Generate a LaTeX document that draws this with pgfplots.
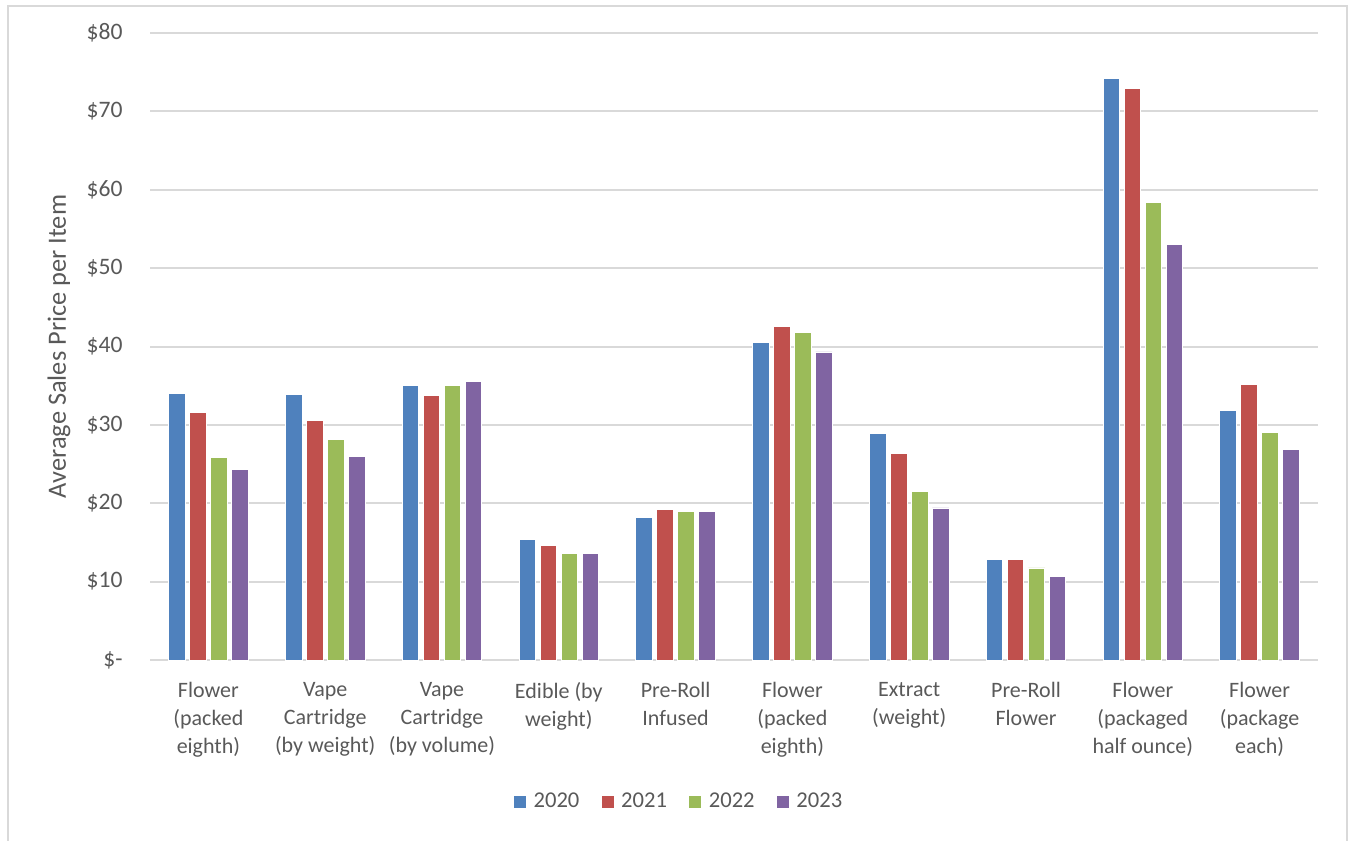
\documentclass[border=0pt]{standalone}
\usepackage{fontspec}
\setmainfont{Carlito}
\usepackage{pgfplots}
\pgfplotsset{compat=1.18}
\definecolor{c1}{HTML}{4F81BD}
\definecolor{c2}{HTML}{C0504D}
\definecolor{c3}{HTML}{9BBB59}
\definecolor{c4}{HTML}{8064A2}
\definecolor{txt}{HTML}{595959}
\definecolor{gridc}{HTML}{D9D9D9}
\begin{document}
\begin{tikzpicture}
\useasboundingbox (0,0) rectangle (676pt,420pt);
\draw[color=gridc, line width=0.9pt] (4pt,-2pt) -- (4pt,417pt) -- (673.5pt,417pt) -- (673.5pt,-2pt);
\begin{axis}[
  at={(75pt,90pt)}, anchor=south west,
  scale only axis, width=584pt, height=313.5pt,
  xmin=-0.5, xmax=9.5, ymin=0, ymax=80,
  ybar=2.25pt, bar width=8.25pt,
  axis line style={draw=none},
  major tick length=0pt,
  tick style={draw=none},
  ymajorgrids, grid style={color=gridc, line width=1pt},
  xtick={0,...,9},
  xticklabels={{Flower\\(packed\\eighth)},{Vape\\Cartridge\\(by weight)},{Vape\\Cartridge\\(by volume)},{Edible (by\\weight)},{Pre-Roll\\Infused},{Flower\\(packed\\eighth)},{Extract\\(weight)},{Pre-Roll\\Flower},{Flower\\(packaged\\half ounce)},{Flower\\(package\\each)}},
  ytick={0,10,...,80},
  yticklabels={{\$-\hspace{5pt}},\$10,\$20,\$30,\$40,\$50,\$60,\$70,\$80},
  ticklabel style={text=txt},
  yticklabel style={font=\fontsize{11.8}{14}\selectfont, inner sep=0pt, xshift=-13.5pt},
  xticklabel style={font=\fontsize{11}{14}\selectfont, align=center, inner sep=0pt, yshift=-11pt},
  ylabel={Average Sales Price per Item},
  ylabel style={font=\fontsize{13.2}{16}\selectfont, text=txt, at={(axis description cs:-0.0779,0.5)}, anchor=center},
  legend style={at={(0.4538,-0.2265)}, anchor=center, draw=none, fill=none, legend columns=4, font=\fontsize{11.3}{14}\selectfont, text=txt, /tikz/every even column/.append style={column sep=9pt}},
  legend image code/.code={\path (0pt,0pt) -- (7.5pt,0pt); \fill[#1, draw=none] (0pt,-3pt) rectangle (6pt,3pt);},
]
\addplot[fill=c1, draw=white, line width=0.4pt] coordinates {(0,34.0) (1,33.9) (2,35.0) (3,15.35) (4,18.15) (5,40.56) (6,28.85) (7,12.8) (8,74.2) (9,31.85)};
\addplot[fill=c2, draw=white, line width=0.4pt] coordinates {(0,31.6) (1,30.6) (2,33.7) (3,14.6) (4,19.2) (5,42.6) (6,26.3) (7,12.8) (8,72.9) (9,35.2)};
\addplot[fill=c3, draw=white, line width=0.4pt] coordinates {(0,25.8) (1,28.1) (2,35.0) (3,13.55) (4,18.9) (5,41.8) (6,21.45) (7,11.75) (8,58.35) (9,29.05)};
\addplot[fill=c4, draw=white, line width=0.4pt] coordinates {(0,24.3) (1,26.0) (2,35.5) (3,13.55) (4,18.9) (5,39.3) (6,19.4) (7,10.7) (8,53.0) (9,26.85)};
\legend{2020,2021,2022,2023}
\end{axis}
\end{tikzpicture}
\end{document}
